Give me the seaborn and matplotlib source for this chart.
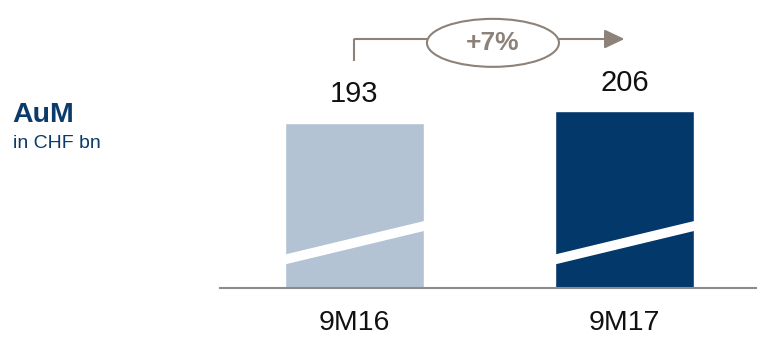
import matplotlib
matplotlib.use("Agg")
import matplotlib.pyplot as plt
from matplotlib.patches import Ellipse
import seaborn as sns
import pandas as pd

# Assets under management, in CHF bn
periods = ["9M16", "9M17"]
aum = [193, 206]
bar_colors = ["#b3c3d3", "#03386a"]

NAVY = "#0a3b6b"
ARROW = "#8c8279"
AXIS = "#8c8c8c"

sns.set_theme(style="white")
plt.rcParams["font.family"] = ["Liberation Sans", "DejaVu Sans"]

df = pd.DataFrame({"period": periods, "aum": aum})

fig = plt.figure(figsize=(7.57, 3.40), dpi=100)
ax = fig.add_axes([220 / 757, 52 / 340, 537 / 757, 288 / 340])

sns.barplot(data=df, x="period", y="aum", hue="period", palette=bar_colors,
            order=periods, hue_order=periods, width=0.515, saturation=1,
            legend=False, ax=ax)

ax.set_xlim(-0.498, 1.491)
ax.set_ylim(0, 336)
ax.set_xlabel("")
ax.set_ylabel("")
ax.set_yticks([])
for side in ("left", "right", "top"):
    ax.spines[side].set_visible(False)
ax.spines["bottom"].set_color(AXIS)
ax.spines["bottom"].set_linewidth(1.5)
ax.spines["bottom"].set_zorder(5)
ax.tick_params(axis="x", length=0, pad=16, labelsize=20.5, labelcolor="#111111")

# white diagonal band marking the broken value axis
break_left, break_right, break_half = 34, 73, 5.8
for patch in ax.patches:
    x0 = patch.get_x()
    x1 = x0 + patch.get_width()
    ax.fill_between([x0, x1],
                    [break_left - break_half, break_right - break_half],
                    [break_left + break_half, break_right + break_half],
                    color="white", linewidth=0, zorder=3)

# value labels above the bars
for i, v in enumerate(aum):
    ax.annotate(f"{v}", xy=(i, v), xytext=(0, 15), textcoords="offset points",
                ha="center", va="baseline", fontsize=21, color="#111111")

# growth arrow with the percentage change
growth = (aum[1] / aum[0] - 1) * 100
y_line = 290.5
ax.plot([0, 0], [265, y_line], color=ARROW, lw=1.5, solid_capstyle="butt",
        clip_on=False, zorder=4)
ax.annotate("", xy=(1.0, y_line), xytext=(0, y_line),
            arrowprops=dict(arrowstyle="-|>,head_length=1.22,head_width=0.58",
                            mutation_scale=10, color=ARROW, lw=1.5,
                            shrinkA=0, shrinkB=0),
            annotation_clip=False, zorder=4)
ell = Ellipse((0.513, 286), width=0.489, height=56, facecolor="white",
              edgecolor=ARROW, linewidth=1.5, zorder=6, clip_on=False)
ax.add_patch(ell)
ax.text(0.513, 278, f"+{growth:.0f}%", ha="center", va="baseline",
        fontsize=19, fontweight="bold", color=ARROW, zorder=7)

# heading on the left
fig.text(12.7 / 757, (340 - 121.7) / 340, "AuM", ha="left", va="baseline",
         fontsize=20.5, fontweight="bold", color=NAVY)
fig.text(12.7 / 757, (340 - 148.3) / 340, "in CHF bn", ha="left", va="baseline",
         fontsize=14, color=NAVY)

fig.savefig("out.png", dpi=100)
